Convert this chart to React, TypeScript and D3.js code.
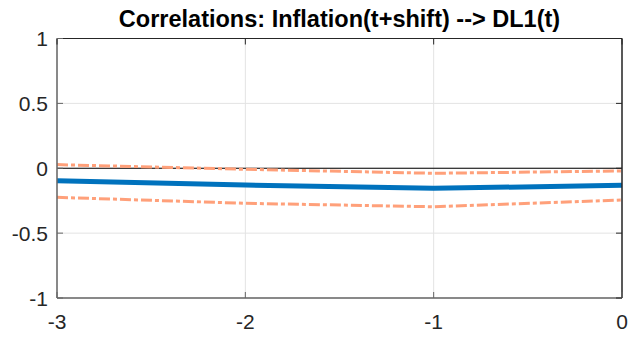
import React, { useEffect, useRef } from 'react';
import * as d3 from "d3";

// shifts on the x axis
const shifts = [-3, -2, -1, 0];
// correlation estimate and bands
const corr = [-0.096, -0.129, -0.155, -0.131];
const upperBand = [0.028, -0.008, -0.039, -0.021];
const lowerBand = [-0.224, -0.27, -0.297, -0.245];
const xTicks = [-3, -2, -1, 0];
const yTicks = [-1, -0.5, 0, 0.5, 1];

function App() {
	const svgRef = useRef(null);

	useEffect(() => {
		const w = 630;
		const h = 338;
		const left = 57, right = 622, top = 38.5, bottom = 298;

		const svg = d3.select(svgRef.current)
			.attr('width', w)
			.attr('height', h)
			.style('background', '#fff');
		svg.selectAll('*').remove();

		const x = d3.scaleLinear().domain([-3, 0]).range([left, right]);
		const y = d3.scaleLinear().domain([-1, 1]).range([bottom, top]);
		const font = '"Liberation Sans", Arial, sans-serif';

		// grid
		svg.append('g').selectAll('line').data(xTicks).join('line')
			.attr('x1', (d: number) => x(d)).attr('x2', (d: number) => x(d))
			.attr('y1', top).attr('y2', bottom)
			.attr('stroke', '#e3e3e3').attr('stroke-width', 1);
		svg.append('g').selectAll('line').data(yTicks).join('line')
			.attr('x1', left).attr('x2', right)
			.attr('y1', (d: number) => y(d)).attr('y2', (d: number) => y(d))
			.attr('stroke', '#e3e3e3').attr('stroke-width', 1);

		// zero line
		svg.append('line')
			.attr('x1', x(-3)).attr('x2', x(0))
			.attr('y1', y(0)).attr('y2', y(0))
			.attr('stroke', '#000').attr('stroke-width', 1.2);

		const line = d3.line<number>()
			.x((d: number, i: number) => x(shifts[i]))
			.y((d: number) => y(d));

		[upperBand, lowerBand].forEach((band) => {
			svg.append('path')
				.attr('d', line(band))
				.attr('fill', 'none')
				.attr('stroke', '#ffa07a')
				.attr('stroke-width', 3)
				.attr('stroke-dasharray', '11,3,4,3');
		});

		svg.append('path')
			.attr('d', line(corr))
			.attr('fill', 'none')
			.attr('stroke', '#0072bd')
			.attr('stroke-width', 5);

		// box
		svg.append('line').attr('x1', left).attr('x2', right).attr('y1', top).attr('y2', top)
			.attr('stroke', '#262626').attr('stroke-width', 1);
		svg.append('line').attr('x1', right).attr('x2', right).attr('y1', top).attr('y2', bottom)
			.attr('stroke', '#262626').attr('stroke-width', 1.5);
		svg.append('line').attr('x1', left).attr('x2', right).attr('y1', bottom).attr('y2', bottom)
			.attr('stroke', '#666').attr('stroke-width', 1.5);
		svg.append('line').attr('x1', left).attr('x2', left).attr('y1', top).attr('y2', bottom)
			.attr('stroke', '#666').attr('stroke-width', 1.5);

		// ticks (inward)
		svg.append('g').selectAll('line').data(xTicks).join('line')
			.attr('x1', (d: number) => x(d)).attr('x2', (d: number) => x(d))
			.attr('y1', bottom).attr('y2', bottom - 6)
			.attr('stroke', '#666');
		svg.append('g').selectAll('line').data(xTicks).join('line')
			.attr('x1', (d: number) => x(d)).attr('x2', (d: number) => x(d))
			.attr('y1', top).attr('y2', top + 6)
			.attr('stroke', '#262626');
		svg.append('g').selectAll('line').data(yTicks).join('line')
			.attr('x1', left).attr('x2', left + 6)
			.attr('y1', (d: number) => y(d)).attr('y2', (d: number) => y(d))
			.attr('stroke', '#666');
		svg.append('g').selectAll('line').data(yTicks).join('line')
			.attr('x1', right).attr('x2', right - 6)
			.attr('y1', (d: number) => y(d)).attr('y2', (d: number) => y(d))
			.attr('stroke', '#262626');

		// tick labels
		svg.append('g').selectAll('text').data(xTicks).join('text')
			.attr('x', (d: number) => x(d)).attr('y', bottom + 31)
			.attr('text-anchor', 'middle')
			.attr('font-family', font).attr('font-size', 21).attr('fill', '#262626')
			.text((d: number) => String(d));
		svg.append('g').selectAll('text').data(yTicks).join('text')
			.attr('x', left - 9).attr('y', (d: number) => y(d) + 7.5)
			.attr('text-anchor', 'end')
			.attr('font-family', font).attr('font-size', 21).attr('fill', '#262626')
			.text((d: number) => String(d));

		// title
		svg.append('text')
			.attr('x', (left + right) / 2).attr('y', 27)
			.attr('text-anchor', 'middle')
			.attr('font-family', font).attr('font-size', 23.5).attr('font-weight', 'bold')
			.attr('fill', '#000')
			.text('Correlations: Inflation(t+shift) --> DL1(t)');
	}, []);

	return (
		<div style={{ position: 'fixed', left: 0, top: 0, width: 630, height: 338, overflow: 'hidden' }}>
			<svg ref={svgRef} style={{ display: 'block' }} />
		</div>
	)
}

export default App;
